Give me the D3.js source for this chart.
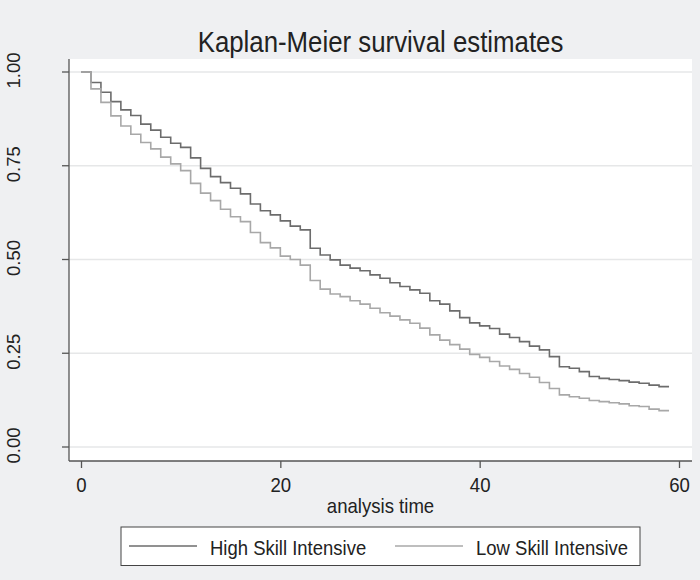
<!DOCTYPE html>
<html>
<head>
<meta charset="utf-8">
<script src="https://cdn.jsdelivr.net/npm/d3@7"></script>
<style>
  body { margin: 0; background: #eff0f2; }
  text { font-family: "Liberation Sans", Arial, sans-serif; fill: #222; }
</style>
</head>
<body>
<div id="chart"></div>
<script>
// analysis time (months), last point is the end of follow-up
const times = [0,1,2,3,4,5,6,7,8,9,10,11,12,13,14,15,16,17,18,19,
  20,21,22,23,24,25,26,27,28,29,30,31,32,33,34,35,36,37,38,39,
  40,41,42,43,44,45,46,47,48,49,50,51,52,53,54,55,56,57,58,59];

const highSkill = [1,0.972,0.946,0.921,0.899,0.884,0.861,0.845,0.826,0.810,
  0.799,0.771,0.743,0.721,0.705,0.690,0.675,0.648,0.630,0.619,
  0.603,0.589,0.579,0.530,0.512,0.499,0.485,0.477,0.470,0.459,
  0.450,0.438,0.428,0.419,0.410,0.390,0.381,0.363,0.345,0.331,
  0.323,0.316,0.301,0.292,0.281,0.269,0.259,0.241,0.214,0.210,
  0.201,0.188,0.183,0.180,0.177,0.173,0.170,0.165,0.161,0.161];

const lowSkill = [1,0.955,0.919,0.883,0.856,0.834,0.812,0.795,0.773,0.755,
  0.737,0.703,0.677,0.657,0.634,0.614,0.601,0.572,0.545,0.531,
  0.509,0.500,0.485,0.444,0.421,0.408,0.401,0.390,0.381,0.370,
  0.358,0.349,0.339,0.330,0.317,0.299,0.285,0.273,0.261,0.247,
  0.239,0.228,0.216,0.207,0.196,0.186,0.172,0.156,0.139,0.134,
  0.130,0.124,0.121,0.118,0.115,0.110,0.108,0.101,0.097,0.097];

const xTicks = [0, 20, 40, 60];
const yTicks = [0, 0.25, 0.5, 0.75, 1];
const seriesNames = ["High Skill Intensive", "Low Skill Intensive"];
const seriesColors = ["#6c6c6c", "#a8a8a8"];

const width = 700, height = 580;
const plot = { left: 69, right: 692, top: 59, bottom: 461 };

const svg = d3.select("#chart").append("svg")
    .attr("width", width)
    .attr("height", height);

svg.append("rect").attr("width", width).attr("height", height).attr("fill", "#eff0f2");

// plot region
svg.append("rect")
    .attr("x", plot.left).attr("y", plot.top)
    .attr("width", plot.right - plot.left).attr("height", plot.bottom - plot.top)
    .attr("fill", "#fff");

const x = d3.scaleLinear().domain([0, 60]).range([81, 679]);
const y = d3.scaleLinear().domain([0, 1]).range([447, 72]);

// gridlines
svg.append("g").selectAll("line")
    .data(yTicks).enter().append("line")
    .attr("x1", plot.left).attr("x2", plot.right)
    .attr("y1", d => y(d)).attr("y2", d => y(d))
    .attr("stroke", "#e6e7e8").attr("stroke-width", 1.5);

// y axis (labels rotated like Stata)
const yAxis = svg.append("g")
    .attr("transform", `translate(${plot.left},0)`)
    .call(d3.axisLeft(y).tickValues(yTicks).tickFormat(d3.format(".2f")).tickSize(7).tickSizeOuter(0));
yAxis.select(".domain").remove();
yAxis.selectAll(".tick").attr("transform", null);
yAxis.selectAll(".tick line")
    .attr("y1", d => y(d)).attr("y2", d => y(d))
    .attr("stroke", "#555").attr("stroke-width", 1.3);
yAxis.selectAll(".tick text")
    .attr("font-size", 18.5)
    .attr("font-family", "Liberation Sans, Arial, sans-serif")
    .attr("fill", "#222")
    .attr("text-anchor", "middle")
    .attr("transform", "rotate(-90)")
    .attr("x", d => -y(d) + 1.5)
    .attr("y", -55).attr("dy", "0.35em");

svg.append("line")
    .attr("x1", plot.left).attr("x2", plot.left)
    .attr("y1", plot.top).attr("y2", plot.bottom)
    .attr("stroke", "#555").attr("stroke-width", 1.3);

// x axis
const xAxis = svg.append("g")
    .attr("transform", `translate(0,${plot.bottom})`)
    .call(d3.axisBottom(x).tickValues(xTicks).tickSize(7).tickSizeOuter(0));
xAxis.select(".domain").remove();
xAxis.selectAll(".tick line").attr("stroke", "#555").attr("stroke-width", 1.3);
xAxis.selectAll(".tick text")
    .attr("font-size", 20)
    .attr("font-family", "Liberation Sans, Arial, sans-serif")
    .attr("fill", "#222")
    .attr("transform", "scale(0.93,1)")
    .attr("y", 16.5);

svg.append("line")
    .attr("x1", plot.left).attr("x2", plot.right)
    .attr("y1", plot.bottom).attr("y2", plot.bottom)
    .attr("stroke", "#555").attr("stroke-width", 1.3);

// survival curves
const line = d3.line()
    .x((d, i) => x(times[i]))
    .y(d => y(d))
    .curve(d3.curveStepAfter);

[highSkill, lowSkill].forEach((s, i) => {
    svg.append("path")
        .datum(s)
        .attr("d", line)
        .attr("fill", "none")
        .attr("stroke", seriesColors[i])
        .attr("stroke-width", 1.6);
});

// title and axis title
svg.append("text")
    .attr("transform", `translate(${(plot.left + plot.right) / 2},52) scale(0.875,1)`)
    .attr("text-anchor", "middle")
    .attr("font-size", 29.5)
    .text("Kaplan-Meier survival estimates");

svg.append("text")
    .attr("transform", `translate(${(plot.left + plot.right) / 2},513) scale(0.93,1)`)
    .attr("text-anchor", "middle")
    .attr("font-size", 20)
    .text("analysis time");

// legend
const legend = svg.append("g");
legend.append("rect")
    .attr("x", 121).attr("y", 527).attr("width", 519).attr("height", 38.5)
    .attr("fill", "#fff").attr("stroke", "#444").attr("stroke-width", 1);

const legendX = [129, 395];
seriesNames.forEach((name, i) => {
    legend.append("line")
        .attr("x1", legendX[i]).attr("x2", legendX[i] + 68)
        .attr("y1", 546).attr("y2", 546)
        .attr("stroke", seriesColors[i]).attr("stroke-width", 1.4);
    legend.append("text")
        .attr("transform", `translate(${legendX[i] + 81},555) scale(0.925,1)`)
        .attr("font-size", 20)
        .text(name);
});
</script>
</body>
</html>
